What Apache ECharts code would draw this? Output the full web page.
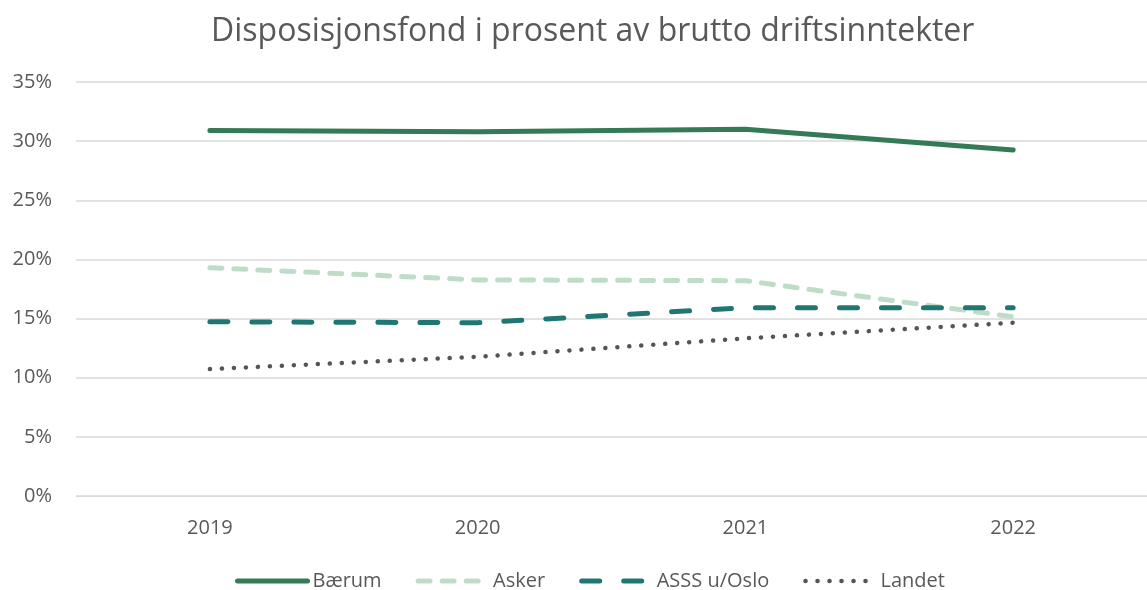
<!DOCTYPE html>
<html><head><meta charset="utf-8">
<script src="https://cdn.jsdelivr.net/npm/echarts@6/dist/echarts.min.js"></script>
<style>html,body{margin:0;padding:0;background:#fff}#c{width:1147px;height:590px}</style>
</head><body><div id="c"></div>
<script>
const title = 'Disposisjonsfond i prosent av brutto driftsinntekter';
const years = ['2019', '2020', '2021', '2022'];
const baerum = [30.9, 30.8, 31.0, 29.25];
const asker = [19.3, 18.27, 18.2, 15.15];
const asss = [14.73, 14.65, 15.92, 15.92];
const landet = [10.73, 11.77, 13.33, 14.65];

const font = 'Open Sans, Lato, sans-serif';
const styles = {
  'Bærum': { color: '#357a56', width: 5, type: 'solid' },
  'Asker': { color: '#bfdcc8', width: 5, type: [12, 12] },
  'ASSS u/Oslo': { color: '#1f7773', width: 5, type: [18, 24] },
  'Landet': { color: '#555555', width: 4.5, type: [0.1, 11.9] }
};
const chart = echarts.init(document.getElementById('c'));
function s(name, data) {
  const st = styles[name];
  return { name, type: 'line', data, symbol: 'none', showSymbol: false,
    lineStyle: { color: st.color, width: st.width, type: st.type, cap: 'round', join: 'round' },
    itemStyle: { color: st.color } };
}
const names = ['Bærum', 'Asker', 'ASSS u/Oslo', 'Landet'];
chart.setOption({
  animation: false,
  title: { text: title, left: 206, top: 11, textStyle: { fontFamily: font, fontSize: 32, fontWeight: 'normal', color: '#595959' } },
  grid: { left: 76, right: -3, top: 82, bottom: 94, containLabel: false },
  xAxis: { type: 'category', data: years, boundaryGap: true,
    axisLine: { lineStyle: { color: '#d9d9d9' } }, axisTick: { show: false },
    axisLabel: { fontFamily: font, fontSize: 20, color: '#595959', margin: 22 } },
  yAxis: { type: 'value', min: 0, max: 35, interval: 5,
    axisLine: { show: false }, axisTick: { show: false },
    splitLine: { lineStyle: { color: '#d9d9d9', width: 1.5 } },
    axisLabel: { formatter: '{value}%', fontFamily: font, fontSize: 20, color: '#595959', margin: 24 } },
  legend: { top: 566, left: 230, itemWidth: 70, itemHeight: 12, itemGap: 34,
    textStyle: { fontFamily: font, fontSize: 20, color: '#595959' },
    data: names.map(n => ({ name: n, itemStyle: { opacity: 0 },
      lineStyle: { color: styles[n].color, width: styles[n].width, type: styles[n].type, cap: 'round' } })) },
  series: names.map((n, i) => s(n, [baerum, asker, asss, landet][i]))
});
</script></body></html>
